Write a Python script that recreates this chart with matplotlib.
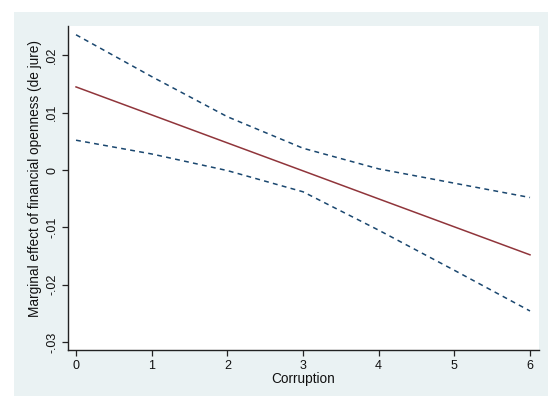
import matplotlib
matplotlib.use("Agg")
import matplotlib.pyplot as plt
from matplotlib.patches import Rectangle

plt.rcParams['font.family'] = ['Liberation Sans', 'DejaVu Sans']

corruption = [0, 1, 2, 3, 4, 5, 6]
marginal = [0.0145, 0.00962, 0.00473, -0.00015, -0.00504, -0.00992, -0.0148]
upper_ci = [0.0236, 0.0163, 0.0093, 0.0038, 0.0002, -0.0023, -0.0048]
lower_ci = [0.0052, 0.0028, -0.0001, -0.0038, -0.0105, -0.0175, -0.0246]
xticks = [0, 1, 2, 3, 4, 5, 6]
yticks = [-0.03, -0.02, -0.01, 0, 0.01, 0.02]
ytick_labels = ["-.03", "-.02", "-.01", "0", ".01", ".02"]

W, H = 548, 396
fig = plt.figure(figsize=(W / 100, H / 100), dpi=100)
fig.patch.set_facecolor('white')
bg = Rectangle((14 / W, 0), 1 - 14 / W, 1 - 12 / H,
               transform=fig.transFigure, facecolor='#EAF2F3',
               edgecolor='none', zorder=-10)
fig.patches.append(bg)

ax = fig.add_axes([68 / W, 1 - 350 / H, (539 - 68) / W, (350 - 26) / H])
ax.set_zorder(5)
ax.set_facecolor('white')

navy = '#1A476F'
maroon = '#90353B'
ax.plot(corruption, marginal, color=maroon, lw=1.1)
l1, = ax.plot(corruption, upper_ci, color=navy, lw=1.1)
l2, = ax.plot(corruption, lower_ci, color=navy, lw=1.1)
for l in (l1, l2):
    l.set_dashes((3.2, 2.8))

ax.set_xlim(-0.106, 6.119)
ax.set_ylim(-0.03141, 0.02513)
ax.set_xticks(xticks)
ax.set_xticklabels([str(x) for x in xticks])
ax.set_yticks(yticks)
ax.set_yticklabels(ytick_labels, rotation=90, va='center')

for s in ('top', 'right'):
    ax.spines[s].set_visible(False)
for s in ('left', 'bottom'):
    ax.spines[s].set_color('#222222')
    ax.spines[s].set_linewidth(1.0)

ax.tick_params(axis='both', direction='out', length=4, width=0.9,
               color='#222222', labelsize=9, labelcolor='#111111', pad=3)

ax.set_xlabel('Corruption', fontsize=9.8, labelpad=0, color='#111111')
ax.set_ylabel('Marginal effect of financial openness (de jure)', fontsize=9.8,
              color='#111111')
ax.yaxis.set_label_coords(-0.056, 0.53)

fig.savefig('out.png', dpi=100, facecolor=fig.get_facecolor())
